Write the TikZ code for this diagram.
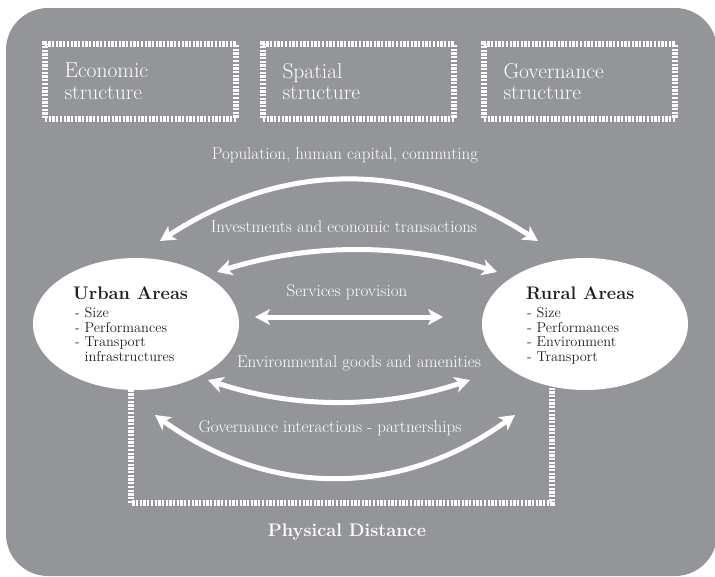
\documentclass[tikz,border=0pt]{standalone}
\usepackage{xcolor}
\usepackage{tikz}
\usetikzlibrary{shapes.geometric,arrows.meta}

\definecolor{panelgray}{RGB}{147,149,152}
\definecolor{inkgray}{RGB}{35,31,32}

\tikzset{
	structbox/.style={draw=white, line width=6pt, dash pattern=on 2.3pt off 1.4pt,
		minimum width=191pt, minimum height=75pt, text width=152pt, align=left,
		text=white, font=\fontsize{21.5}{21.5}\selectfont},
	area/.style={ellipse, fill=white, minimum width=206pt, minimum height=132pt, inner sep=0pt},
	areatitle/.style={anchor=base west, inner sep=0pt, text=inkgray, font=\fontsize{18.2}{20}\selectfont\bfseries},
	arealist/.style={anchor=north west, inner sep=0pt, align=left, text=inkgray, font=\fontsize{14.4}{14.7}\selectfont},
	flowlabel/.style={text=white, inner sep=0pt, font=\fontsize{17}{19}\selectfont},
	flow/.style={white, line width=5pt, {Stealth[length=15pt,width=16pt,inset=4pt]}-{Stealth[length=15pt,width=16pt,inset=4pt]}},
	hatch/.style={white, line width=6pt, dash pattern=on 2.3pt off 1.4pt}
}

\begin{document}
\begin{tikzpicture}[x=1pt, y=-1pt]
		\useasboundingbox (0,0) rectangle (715,576);
		\fill [panelgray, rounded corners=42pt] (6,8) rectangle (717,576);

		\coordinate (popl) at (160, 241);
		\coordinate (popr) at (538, 241);
		\coordinate (invl) at (217, 272);
		\coordinate (invr) at (497, 272);
		\coordinate (serl) at (255, 317);
		\coordinate (serr) at (443, 317);
		\coordinate (envl) at (208, 380);
		\coordinate (envr) at (470, 380);
		\coordinate (govl) at (155, 415);
		\coordinate (govr) at (515, 415);

		\coordinate (disl) at (131, 360);
		\coordinate (disr) at (552, 360);
		\coordinate (disb) at (552, 503);

		\node (econ) [structbox] at (140.5, 81.5) {Economic\\structure};
		\node (spat) [structbox] at (358.5, 81.5) {Spatial\\structure};
		\node (gove) [structbox] at (579.5, 81.5) {Governance\\structure};

		\draw (disl) [hatch] |- (disb) -- (disr);

		\node (urban) [area] at (136, 324) {};
		\node (rural) [area] at (585, 324) {};

		\node (urbantitle) [areatitle] at (73, 299) {Urban Areas};
		\node (urbanlist) [arealist] at (75, 307) {- Size\\- Performances\\- Transport\\\phantom{- }infrastructures};
		\node (ruraltitle) [areatitle] at (526, 299) {Rural Areas};
		\node (rurallist) [arealist] at (527, 307) {- Size\\- Performances\\- Environment\\- Transport};

		\draw (popl) [flow] .. controls (284, 160) and (414, 160) .. (popr);
		\draw (invl) [flow] .. controls (310, 243) and (404, 243) .. (invr);
		\draw (serl) [flow] -- (serr);
		\draw (envl) [flow] .. controls (295, 409) and (383, 409) .. (envr);
		\draw (govl) [flow] .. controls (270, 498) and (400, 498) .. (govr);

		\node (poplabel) [flowlabel] at (345, 155) {Population, human capital, commuting};
		\node (invlabel) [flowlabel] at (344, 227) {Investments and economic transactions};
		\node (serlabel) [flowlabel] at (347, 292) {Services provision};
		\node (envlabel) [flowlabel] at (359, 363) {Environmental goods and amenities};
		\node (govlabel) [flowlabel] at (330, 428) {Governance interactions - partnerships};

		\node (distance) [flowlabel, font=\fontsize{18.2}{20}\selectfont\bfseries] at (347, 532) {Physical Distance};
	\end{tikzpicture}
\end{document}
